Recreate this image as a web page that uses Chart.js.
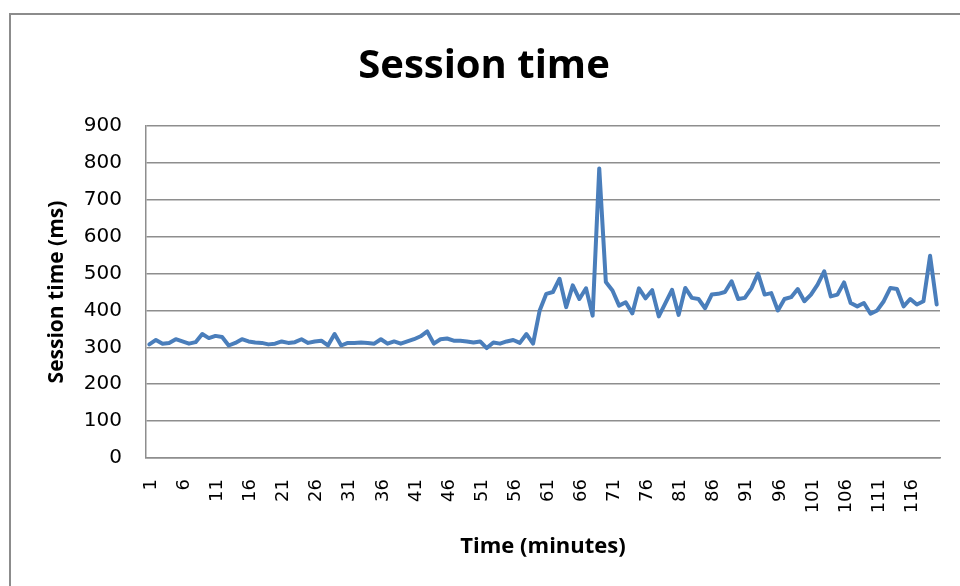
<!DOCTYPE html>
<html>
<head>
<meta charset="utf-8">
<script src="https://cdn.jsdelivr.net/npm/chart.js@4/dist/chart.umd.min.js"></script>
<style>
  html, body { margin: 0; padding: 0; background: #fff; }
  #wrap { position: relative; width: 960px; height: 586px; overflow: hidden; background: #fff; }
  #frame { position: absolute; left: 9px; top: 13px; width: 1000px; height: 700px;
           border-left: 2px solid #8c8c8c; border-top: 2px solid #8c8c8c; }
  canvas { position: absolute; left: 0; top: 0; }
</style>
</head>
<body>
<div id="wrap">
  <div id="frame"></div>
  <canvas id="c" width="960" height="586"></canvas>
</div>
<script>
// Categories: minute index 1..120
const minutes = Array.from({ length: 120 }, (_, i) => String(i + 1));

// Session time (ms)
const sessionTime = [
  308, 320, 310, 312, 322, 316, 310, 314, 336, 325,
  331, 328, 305, 312, 322, 316, 313, 312, 308, 310,
  316, 312, 314, 322, 312, 316, 318, 305, 336, 305,
  312, 312, 313, 312, 310, 322, 310, 316, 310, 316,
  322, 330, 343, 310, 322, 324, 318, 318, 316, 313,
  316, 298, 313, 310, 316, 320, 312, 336, 310, 400,
  445, 450, 486, 409, 468, 431, 460, 386, 785, 477,
  454, 413, 422, 392, 460, 433, 455, 384, 420, 456,
  388, 461, 434, 431, 406, 443, 445, 450, 479, 431,
  434, 460, 500, 443, 447, 400, 431, 436, 458, 425,
  443, 470, 506, 438, 443, 476, 420, 411, 420, 391,
  400, 425, 461, 458, 411, 431, 416, 425, 548, 416
];

const chartTitle = 'Session time';
const xTitle = 'Time (minutes)';
const yTitle = 'Session time (ms)';
const yMin = 0, yMax = 900, yStep = 100;
const labelEvery = 5;

const gridGray = '#8e8e8e';

new Chart(document.getElementById('c'), {
  type: 'line',
  data: {
    labels: minutes,
    datasets: [{
      label: 'Session time',
      data: sessionTime,
      borderColor: '#4a7ebb',
      backgroundColor: '#4a7ebb',
      borderWidth: 4,
      pointRadius: 0,
      tension: 0,
      borderJoinStyle: 'round',
      borderCapStyle: 'round',
      fill: false
    }]
  },
  options: {
    responsive: false,
    animation: false,
    layout: { padding: { left: 10, right: 2, top: 0, bottom: 0 } },
    plugins: {
      legend: { display: false },
      tooltip: { enabled: false },
      title: {
        display: true,
        text: chartTitle,
        color: '#000',
        font: { family: 'Open Sans', size: 40, weight: 'bold', lineHeight: 1.2 },
        padding: { top: 43, bottom: 35 }
      }
    },
    scales: {
      x: {
        type: 'category',
        offset: true,
        grid: { display: false, drawTicks: false },
        border: { display: true, color: gridGray, width: 1.5 },
        ticks: {
          autoSkip: false,
          minRotation: 90,
          maxRotation: 90,
          padding: 21,
          labelOffset: 2,
          color: '#000',
          font: { family: 'DejaVu Sans', size: 18 },
          callback: function (v, i) { return i % labelEvery === 0 ? minutes[i] : ''; }
        },
        title: {
          display: true,
          text: xTitle,
          color: '#000',
          font: { family: 'Open Sans', size: 22, weight: 'bold', lineHeight: 1.2 },
          padding: { top: 0, bottom: 26 }
        },
        afterFit: function (scale) {
          scale.height = 128;
          scale.paddingRight = 20;
          scale.paddingLeft = 0;
        }
      },
      y: {
        min: yMin,
        max: yMax,
        ticks: {
          stepSize: yStep,
          padding: 24,
          color: '#000',
          font: { family: 'DejaVu Sans', size: 20 }
        },
        grid: { color: gridGray, lineWidth: 1.5, drawTicks: false },
        border: { display: true, color: gridGray, width: 1.5 },
        title: {
          display: true,
          text: yTitle,
          color: '#000',
          font: { family: 'Open Sans', size: 21, weight: 'bold', lineHeight: 1.2 },
          padding: { top: 34, bottom: 0 }
        },
        afterFit: function (scale) { scale.width = 136; }
      }
    }
  }
});
</script>
</body>
</html>
